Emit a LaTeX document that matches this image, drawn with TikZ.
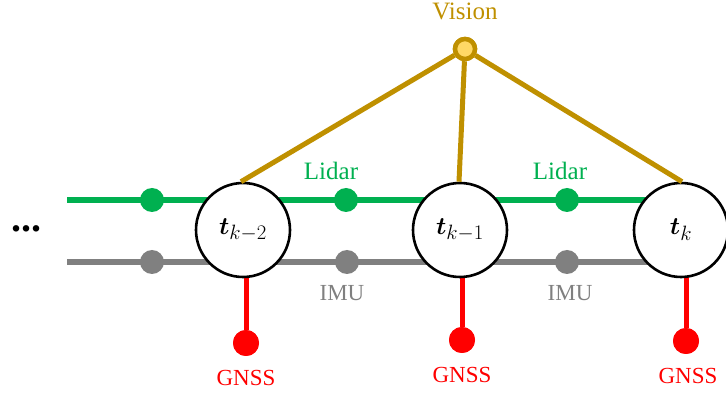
\documentclass[tikz,border=0pt]{standalone}
\usepackage{fontspec}
\usepackage{amsmath}
\usepackage{bm}
\setmainfont{Liberation Serif}
\definecolor{lidargreen}{HTML}{00B050}
\definecolor{imugray}{HTML}{808080}
\definecolor{gnssred}{HTML}{FF0000}
\definecolor{visiongold}{HTML}{BF9000}
\definecolor{visionfill}{HTML}{FFD966}
\tikzset{
  state/.style={circle, draw=black, line width=2.6pt, fill=white, minimum size=94pt, inner sep=0pt, font=\fontsize{30}{32}\selectfont},
  lidardot/.style={circle, fill=lidargreen, minimum size=24pt, inner sep=0pt},
  imudot/.style={circle, fill=imugray, minimum size=24pt, inner sep=0pt},
  gnssdot/.style={circle, fill=gnssred, minimum size=26pt, inner sep=0pt},
  visiondot/.style={circle, draw=visiongold, line width=4.5pt, fill=visionfill, minimum size=20pt, inner sep=0pt},
  lbl/.style={font=\fontsize{25}{27}\selectfont, inner sep=0pt},
  capslbl/.style={font=\fontsize{23}{25}\selectfont, inner sep=0pt},
  lidarline/.style={draw=lidargreen, line width=5.5pt},
  imuline/.style={draw=imugray, line width=5.5pt},
  gnssline/.style={draw=gnssred, line width=5pt},
  visionline/.style={draw=visiongold, line width=5pt},
}
\begin{document}
\begin{tikzpicture}[x=1pt,y=-1pt]
\useasboundingbox (0,0) rectangle (726,395);

% chain start points
\coordinate (gstart) at (67,200);
\coordinate (istart) at (67,262);

% state positions
\coordinate (c0) at (243,230);
\coordinate (c1) at (460,230);
\coordinate (c2) at (681,230);

% vision
\node[visiondot] (v) at (465,49) {};
\node[lbl, text=visiongold] (vl) at (465,11) {Vision};

% lidar and IMU chains
\draw[lidarline] (gstart) -- (gstart -| c2);
\draw[imuline] (istart) -- (istart -| c2);

% GNSS dots and links
\node[gnssdot] (g0) at (246,343) {};
\node[gnssdot] (g1) at (462,340) {};
\node[gnssdot] (g2) at (686,341) {};
\draw[gnssline] (g0 |- c0) -- (g0);
\draw[gnssline] (g1 |- c1) -- (g1);
\draw[gnssline] (g2 |- c2) -- (g2);

% measurement dots on the chains
\node[lidardot] (l0) at (152,200) {};
\node[lidardot] (l1) at (346,200) {};
\node[lidardot] (l2) at (567,200) {};
\node[imudot] (i0) at (152,262) {};
\node[imudot] (i1) at (347,262) {};
\node[imudot] (i2) at (567,262) {};
\node[gnssdot] at (g0) {};
\node[gnssdot] at (g1) {};
\node[gnssdot] at (g2) {};

% states
\node[state] (t0) at (c0) {$\bm{t}_{k-2}$};
\node[state] (t1) at (c1) {$\bm{t}_{k-1}$};
\node[state] (t2) at (c2) {$\bm{t}_{k}$};

% vision links
\draw[visionline] (v) -- ([xshift=-2pt]t0.north);
\draw[visionline] (v) -- ([xshift=-1pt]t1.north);
\draw[visionline] (v) -- ([xshift=1pt]t2.north);
\node[visiondot] at (v) {};

% labels
\node[lbl, text=lidargreen] (ll1) at (331,171) {Lidar};
\node[lbl, text=lidargreen] (ll2) at (560,171) {Lidar};
\node[capslbl, text=imugray] (il1) at (342,293) {IMU};
\node[capslbl, text=imugray] (il2) at (570,293) {IMU};
\node[capslbl, text=gnssred] (gl0) at (246,378) {GNSS};
\node[capslbl, text=gnssred] (gl1) at (462,375) {GNSS};
\node[capslbl, text=gnssred] (gl2) at (688,376) {GNSS};
\node[font=\fontsize{40}{40}\selectfont\bfseries, inner sep=0pt] (dots) at (27,229) {...};
\end{tikzpicture}
\end{document}
